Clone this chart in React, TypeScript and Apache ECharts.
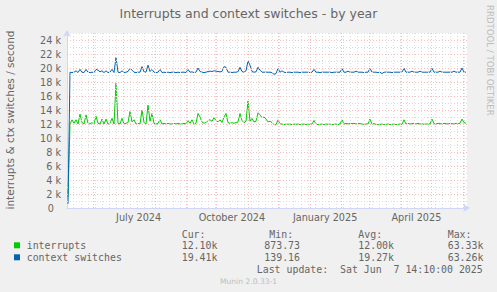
import React, { useEffect, useRef } from 'react';
import * as echarts from 'echarts';

// ---- data (thousands per second), one sample every ~2 days across the window ----
const seriesNames = ['interrupts', 'context switches'];
const seriesColors = ['#00CC00', '#0066B3'];

const interruptsK = [
  1.6, 12.0, 12.6, 12.1, 12.6, 12.0, 13.4, 12.2, 12.0, 13.3,
  12.1, 12.0, 12.2, 12.0, 13.1, 12.1, 12.0, 12.7, 12.0, 12.7,
  12.0, 12.1, 12.8, 12.0, 17.8, 12.1, 12.0, 12.8, 12.0, 12.1,
  12.2, 13.8, 12.3, 12.6, 12.0, 12.1, 12.0, 14.0, 12.2, 12.0,
  14.7, 12.4, 13.5, 12.1, 12.0, 12.1, 12.6, 12.0, 12.1, 12.0,
  12.1, 12.0, 12.0, 12.1, 12.0, 12.1, 12.0, 12.0, 12.1, 12.0,
  12.5, 12.1, 12.6, 12.0, 12.1, 13.5, 13.0, 12.3, 12.1, 12.2,
  12.5, 12.6, 12.4, 12.9, 12.5, 12.3, 12.6, 12.2, 13.0, 13.5,
  12.2, 12.1, 12.2, 12.1, 12.2, 12.3, 13.5, 12.5, 12.2, 12.4,
  15.3, 12.4, 12.8, 12.3, 12.4, 13.6, 13.3, 12.9, 13.0, 12.7,
  12.3, 12.4, 12.2, 11.9, 11.9, 12.6, 12.0, 12.0, 11.9, 12.0,
  11.95, 12.0, 11.9, 12.0, 11.95, 12.0, 11.9, 11.95, 12.0, 11.9,
  12.0, 11.95, 12.0, 12.5, 12.0, 11.9, 11.95, 12.0, 11.9, 12.0,
  11.95, 12.0, 11.9, 11.95, 12.0, 11.9, 12.0, 12.6, 12.0, 12.1,
  12.0, 12.1, 12.05, 12.1, 12.0, 12.1, 12.05, 12.0, 11.95, 12.0,
  12.0, 12.7, 12.0, 12.05, 11.95, 11.9, 11.95, 12.0, 11.9, 11.95,
  12.0, 11.9, 11.95, 12.0, 11.9, 11.95, 12.0, 11.95, 12.6, 12.0,
  12.1, 12.0, 12.05, 12.1, 12.0, 12.1, 12.0, 12.05, 11.95, 12.0,
  12.0, 12.0, 12.7, 12.05, 12.0, 12.1, 12.05, 12.0, 12.1, 12.05,
  12.0, 12.1, 12.05, 12.0, 12.1, 12.05, 12.1, 12.7, 12.2, 12.1,
];

const ctxSwitchesK = [
  0.6, 19.4, 19.35, 19.4, 19.6, 19.35, 19.8, 19.4, 19.35, 19.8,
  19.4, 19.35, 19.4, 19.35, 19.8, 19.7, 19.45, 19.6, 19.35, 19.6,
  19.35, 19.4, 19.8, 19.35, 21.5, 19.4, 19.35, 19.6, 19.35, 19.4,
  19.5, 19.95, 19.7, 19.4, 19.35, 19.4, 19.4, 20.2, 19.45, 19.4,
  20.4, 19.5, 19.8, 19.4, 19.35, 19.4, 19.8, 19.35, 19.4, 19.35,
  19.4, 19.35, 19.4, 19.4, 19.35, 19.4, 19.35, 19.4, 19.4, 19.35,
  19.8, 19.4, 19.45, 19.35, 19.4, 20.0, 19.5, 19.4, 19.35, 19.4,
  19.5, 19.55, 19.5, 19.6, 19.55, 19.5, 19.45, 19.5, 20.2, 20.1,
  19.4, 19.4, 19.35, 19.4, 19.4, 19.45, 20.1, 19.5, 19.4, 19.6,
  21.0, 20.4, 19.5, 19.4, 19.45, 20.1, 19.7, 19.4, 19.4, 19.4,
  19.4, 19.4, 19.35, 19.1, 19.2, 19.95, 19.4, 19.6, 19.4, 19.35,
  19.4, 19.4, 19.35, 19.4, 19.4, 19.4, 19.35, 19.4, 19.4, 19.4,
  19.4, 19.35, 19.4, 19.8, 19.4, 19.4, 19.35, 19.4, 19.4, 19.4,
  19.4, 19.4, 19.35, 19.4, 19.4, 19.4, 19.4, 19.9, 19.4, 19.4,
  19.55, 19.4, 19.4, 19.4, 19.55, 19.4, 19.4, 19.4, 19.35, 19.4,
  19.4, 19.95, 19.4, 19.4, 19.4, 19.35, 19.4, 19.2, 19.4, 19.4,
  19.4, 19.4, 19.35, 19.4, 19.4, 19.4, 19.4, 19.4, 19.95, 19.4,
  19.4, 19.4, 19.55, 19.4, 19.4, 19.4, 19.55, 19.4, 19.4, 19.4,
  19.4, 19.4, 19.95, 19.4, 19.4, 19.4, 19.55, 19.4, 19.4, 19.4,
  19.4, 19.4, 19.4, 19.55, 19.4, 19.4, 19.4, 20.0, 19.4, 19.41,
];

const legendHeaders = ['Cur:', 'Min:', 'Avg:', 'Max:'];
const curValues = ['12.10k', '19.41k'];
const minValues = ['873.73', '139.16'];
const avgValues = ['12.00k', '19.27k'];
const maxValues = ['63.33k', '63.26k'];
const lastUpdate = 'Last update:  Sat Jun  7 14:10:00 2025';
const titleText = 'Interrupts and context switches - by year';
const yTitle = 'interrupts & ctx switches / second';
const monthNames = ['January', 'February', 'March', 'April', 'May', 'June', 'July', 'August', 'September', 'October', 'November', 'December'];

// label ticks: quarterly, centred within their month
const labelTimes = [Date.UTC(2024, 6, 16), Date.UTC(2024, 9, 16), Date.UTC(2025, 0, 16), Date.UTC(2025, 3, 16)];

const windowStart = Date.UTC(2024, 4, 6, 8, 24);
const windowEnd = Date.UTC(2025, 5, 4, 22, 43);

const FONT = 'DejaVu Sans';
const MONO = 'DejaVu Sans Mono';
const TXT = '#666666';
const MGRID = '#f7bcbc';
const GRID = '#dddddd';
const AXIS = '#CFD6F8';

export default function App() {
  const ref = useRef<HTMLDivElement>(null);
  useEffect(() => {
    document.body.style.margin = '0';
    if (!ref.current) return;
    const chart = echarts.init(ref.current, undefined, { renderer: 'svg' });

    const n = interruptsK.length;
    const span = windowEnd - windowStart;
    const times = interruptsK.map((_, i) => windowStart + ((2 * i + 1) / (2 * n)) * span);

    // grid lines: months (major) and mondays (minor); thousands
    const gridLines: any[] = [];
    for (let t = Date.UTC(2024, 4, 13); t < windowEnd; t += 7 * 86400000) {
      gridLines.push({ xAxis: t, lineStyle: { color: GRID, type: [1, 2], width: 1 } });
    }
    for (let y = 1000; y <= 25000; y += 2000) {
      gridLines.push({ yAxis: y, lineStyle: { color: GRID, type: [1, 2], width: 1 } });
    }
    for (let m = 0; m <= 12; m++) {
      const t = Date.UTC(2024, 5 + m, 1);
      if (t > windowStart && t < windowEnd) gridLines.push({ xAxis: t, lineStyle: { color: MGRID, type: [1, 2], width: 1 } });
    }
    for (let y = 2000; y <= 24000; y += 2000) {
      gridLines.push({ yAxis: y, lineStyle: { color: MGRID, type: [1, 2], width: 1 } });
    }

    const graphic: any[] = [
      { type: 'text', x: 248.5, y: 13, style: { text: titleText, fill: TXT, font: `12.5px "${FONT}"`, align: 'center', verticalAlign: 'middle' } },
      { type: 'text', x: 9.5, y: 120, rotation: Math.PI / 2, style: { text: yTitle, fill: TXT, font: `10.5px "${FONT}"`, align: 'center', verticalAlign: 'middle' } },
      { type: 'text', x: 490, y: 5, rotation: -Math.PI / 2, style: { text: 'RRDTOOL / TOBI OETIKER', fill: '#bdbdbd', font: `8.6px "${FONT}"`, align: 'left', verticalAlign: 'middle' } },
      { type: 'text', x: 248.5, y: 281, style: { text: 'Munin 2.0.33-1', fill: '#bdbdbd', font: `7.6px "${FONT}"`, align: 'center', verticalAlign: 'middle' } },
      { type: 'text', x: 482.7, y: 269.5, style: { text: lastUpdate, fill: TXT, font: `9.9px "${MONO}"`, align: 'right', verticalAlign: 'middle' } },
    ];
    const colX = [181.7, 269.3, 358.3, 447.7];
    const valX = [181.7, 264.3, 358.3, 447.7];
    legendHeaders.forEach((h, j) => {
      graphic.push({ type: 'text', x: colX[j], y: 234, style: { text: h, fill: TXT, font: `9.9px "${MONO}"`, align: 'left', verticalAlign: 'middle' } });
    });
    seriesNames.forEach((name, i) => {
      const yy = 245.7 + i * 12;
      graphic.push({ type: 'rect', shape: { x: 14, y: yy - 3.4, width: 6, height: 6 }, style: { fill: seriesColors[i] } });
      graphic.push({ type: 'text', x: 26.7, y: yy, style: { text: name, fill: TXT, font: `9.9px "${MONO}"`, align: 'left', verticalAlign: 'middle' } });
      [curValues[i], minValues[i], avgValues[i], maxValues[i]].forEach((v, j) => {
        graphic.push({ type: 'text', x: valX[j], y: yy, style: { text: v, fill: TXT, font: `9.9px "${MONO}"`, align: 'left', verticalAlign: 'middle' } });
      });
    });

    const option: any = {
      animation: false,
      backgroundColor: '#F0F0F0',
      grid: { left: 67, right: 30, top: 33, bottom: 84, show: true, backgroundColor: '#FFFFFF', borderWidth: 0 },
      xAxis: {
        type: 'value',
        min: windowStart,
        max: windowEnd,
        axisLine: { show: true, lineStyle: { color: AXIS, width: 1 }, symbol: ['none', 'arrow'], symbolSize: [6, 7], symbolOffset: [0, 3] },
        axisTick: { show: false },
        splitLine: { show: false },
        axisLabel: {
          customValues: labelTimes,
          hideOverlap: false,
          showMinLabel: true,
          showMaxLabel: true,
          formatter: (v: number) => {
            const d = new Date(v);
            return monthNames[d.getUTCMonth()] + ' ' + d.getUTCFullYear();
          },
          color: TXT,
          fontFamily: FONT,
          fontSize: 9.7,
          margin: 4,
        },
      },
      yAxis: {
        type: 'value',
        min: 0,
        max: 25000,
        interval: 2000,
        axisLine: { show: true, lineStyle: { color: AXIS, width: 1 }, symbol: ['none', 'arrow'], symbolSize: [6, 7], symbolOffset: [0, 3] },
        axisTick: { show: false },
        splitLine: { show: false },
        axisLabel: {
          showMaxLabel: false,
          formatter: (v: number) => (v === 0 ? '{z|0}' : v / 1000 + ' k'),
          rich: { z: { padding: [0, 7, 0, 0], color: TXT, fontFamily: FONT, fontSize: 9.7 } },
          color: TXT,
          fontFamily: FONT,
          fontSize: 9.7,
          margin: 6,
        },
      },
      series: [
        {
          type: 'line',
          data: [],
          z: 1,
          silent: true,
          markLine: { silent: true, symbol: ['none', 'none'], label: { show: false }, emphasis: { disabled: true }, animation: false, data: gridLines },
        },
        {
          name: seriesNames[0],
          type: 'line',
          z: 3,
          showSymbol: false,
          symbol: 'none',
          lineStyle: { color: seriesColors[0], width: 1 },
          emphasis: { disabled: true },
          data: times.map((t, i) => [t, interruptsK[i] * 1000]),
        },
        {
          name: seriesNames[1],
          type: 'line',
          z: 4,
          showSymbol: false,
          symbol: 'none',
          lineStyle: { color: seriesColors[1], width: 1 },
          emphasis: { disabled: true },
          data: times.map((t, i) => [t, ctxSwitchesK[i] * 1000]),
        },
      ],
      graphic,
    };
    chart.setOption(option);
    return () => chart.dispose();
  }, []);
  return <div ref={ref} style={{ position: 'fixed', left: 0, top: 0, width: 497, height: 292 }} />;
}
